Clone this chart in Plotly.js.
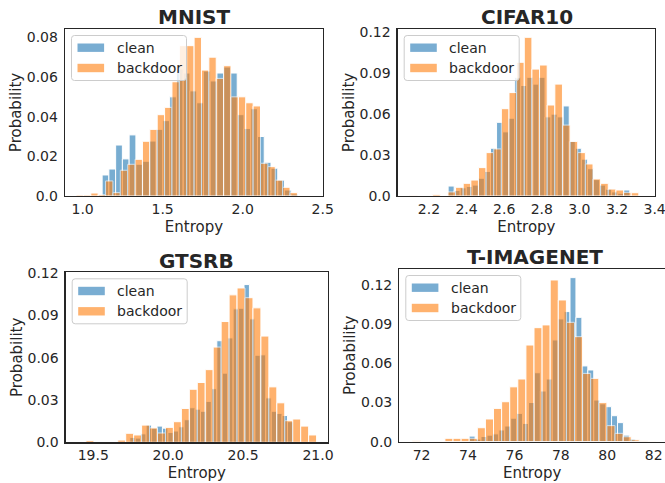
<!DOCTYPE html>
<html><head><meta charset="utf-8">
<script src="https://cdn.plot.ly/plotly-3.0.1.min.js"></script>
<style>html,body{margin:0;padding:0;background:#fff}#chart{width:665px;height:483px}</style>
</head><body><div id="chart"></div>
<script>
// ---------------- DATA ----------------
const panelTitles = ['MNIST', 'CIFAR10', 'GTSRB', 'T-IMAGENET'];
const seriesNames = ['clean', 'backdoor'];

// MNIST
const mnistCleanStart = 1.122, mnistCleanWidth = 0.0422;
const mnistClean = [0.0106,0.0136,0.0257,0.0187,0.0308,0.016,0.0175,0.0277,0.0336,0.038,0.050,0.064,0.062,0.053,0.047,0.063,0.058,0.062,0.065,0.062,0.041,0.034,0.044,0.030,0.017,0.014,0.008,0.003,0.001];
const mnistBackdoorStart = 0.959, mnistBackdoorWidth = 0.0461;
const mnistBackdoor = [0.0005,0.0005,0.0015,0.0007,0.0076,0.0017,0.013,0.016,0.0185,0.0276,0.0336,0.041,0.0447,0.0576,0.0758,0.0758,0.080,0.0635,0.070,0.0593,0.0657,0.050,0.050,0.047,0.0454,0.0165,0.0148,0.008,0.0044,0.0017];
const mnistXTicks = [1.0, 1.5, 2.0, 2.5];
const mnistXTickText = ['1.0', '1.5', '2.0', '2.5'];
const mnistYTicks = [0, 0.02, 0.04, 0.06, 0.08];
const mnistYTickText = ['0.0', '0.02', '0.04', '0.06', '0.08'];

// CIFAR10
const cifarCleanStart = 2.302, cifarCleanWidth = 0.0322;
const cifarClean = [0.0073,0.004,0.006,0.007,0.008,0.013,0.018,0.035,0.054,0.047,0.057,0.087,0.081,0.087,0.082,0.087,0.058,0.060,0.058,0.066,0.040,0.035,0.027,0.020,0.012,0.008,0.005,0.003,0.002,0.0044];
const cifarBackdoorStart = 2.098, cifarBackdoorWidth = 0.0406;
const cifarBackdoor = [0.0005,0,0,0.0012,0,0.003,0.0064,0.0093,0.0117,0.0208,0.0318,0.0345,0.064,0.0758,0.098,0.1163,0.093,0.096,0.0667,0.082,0.052,0.040,0.0318,0.0235,0.0125,0.0093,0.0051,0.0044,0.0027,0.0024];
const cifarXTicks = [2.2, 2.4, 2.6, 2.8, 3.0, 3.2, 3.4];
const cifarXTickText = ['2.2', '2.4', '2.6', '2.8', '3.0', '3.2', '3.4'];
const cifarYTicks = [0, 0.03, 0.06, 0.09, 0.12];
const cifarYTickText = ['0.0', '0.03', '0.06', '0.09', '0.12'];

// GTSRB
const gtsrbCleanStart = 19.744, gtsrbCleanWidth = 0.0363;
const gtsrbClean = [0.0035,0.003,0.006,0.0122,0.010,0.0115,0.010,0.007,0.008,0.011,0.016,0.0245,0.0235,0.022,0.029,0.038,0.072,0.049,0.074,0.0946,0.095,0.1118,0.0875,0.0617,0.062,0.0315,0.022,0.0205,0.019,0.0146];
const gtsrbBackdoorStart = 19.451, gtsrbBackdoorWidth = 0.0531;
const gtsrbBackdoor = [0.0012,0,0,0,0.0016,0.0064,0.0052,0.0122,0.0102,0.0066,0.0106,0.0146,0.024,0.0376,0.0424,0.0515,0.0675,0.0856,0.1045,0.1094,0.1025,0.0953,0.0753,0.0393,0.028,0.0153,0.0165,0.0115,0.0052];
const gtsrbXTicks = [19.5, 20.0, 20.5, 21.0];
const gtsrbXTickText = ['19.5', '20.0', '20.5', '21.0'];
const gtsrbYTicks = [0, 0.03, 0.06, 0.09, 0.12];
const gtsrbYTickText = ['0.0', '0.03', '0.06', '0.09', '0.12'];

// T-IMAGENET
const timgCleanStart = 74.05, timgCleanWidth = 0.2557;
const timgClean = [0.0043,0.002,0.004,0.005,0.006,0.009,0.012,0.018,0.0217,0.014,0.030,0.0528,0.0388,0.048,0.0779,0.094,0.0996,0.1256,0.0952,0.058,0.0549,0.0319,0.029,0.0268,0.0199,0.0146,0.005,0.002,0.0008,0.0005];
const timgBackdoorStart = 71.61, timgBackdoorWidth = 0.349;
const timgBackdoor = [0.001,0,0,0,0.0026,0.0026,0.0026,0.0026,0.0107,0.0174,0.0255,0.0306,0.042,0.048,0.074,0.0873,0.0894,0.1238,0.1085,0.0914,0.0804,0.0523,0.0485,0.0299,0.0123,0.0064,0.0038,0.0015,0.0008,0.0005];
const timgXTicks = [72, 74, 76, 78, 80, 82];
const timgXTickText = ['72', '74', '76', '78', '80', '82'];
const timgYTicks = [0, 0.03, 0.06, 0.09, 0.12];
const timgYTickText = ['0.0', '0.03', '0.06', '0.09', '0.12'];

// ---------------- LAYOUT / STYLE ----------------
const W = 665, H = 483;
const PX = x => x / W, PY = y => 1 - y / H;
const BLUE = '#1f77b4', ORANGE = '#ff7f0e', TXT = '#262626';
const FONT = 'DejaVu Sans';

const panels = [
  {box:[65,29,323,196], xr:[0.89,2.502], yr:[0,0.0842],
   clean:[mnistCleanStart,mnistCleanWidth,mnistClean], back:[mnistBackdoorStart,mnistBackdoorWidth,mnistBackdoor],
   xt:mnistXTicks, xtt:mnistXTickText, yt:mnistYTicks, ytt:mnistYTickText, tcx:194, tcy:17},
  {box:[397.7,29,655,196], xr:[2.034,3.402], yr:[0,0.1224],
   clean:[cifarCleanStart,cifarCleanWidth,cifarClean], back:[cifarBackdoorStart,cifarBackdoorWidth,cifarBackdoor],
   xt:cifarXTicks, xtt:cifarXTickText, yt:cifarYTicks, ytt:cifarYTickText, tcx:526.5, tcy:17},
  {box:[65.7,272.3,328,442.3], xr:[19.316,21.067], yr:[0,0.1205],
   clean:[gtsrbCleanStart,gtsrbCleanWidth,gtsrbClean], back:[gtsrbBackdoorStart,gtsrbBackdoorWidth,gtsrbBackdoor],
   xt:gtsrbXTicks, xtt:gtsrbXTickText, yt:gtsrbYTicks, ytt:gtsrbYTickText, tcx:196.8, tcy:260.7},
  {box:[399.3,269,665,441.7], xr:[71.04,82.49], yr:[0,0.1322],
   clean:[timgCleanStart,timgCleanWidth,timgClean], back:[timgBackdoorStart,timgBackdoorWidth,timgBackdoor],
   xt:timgXTicks, xtt:timgXTickText, yt:timgYTicks, ytt:timgYTickText, tcx:535, tcy:256.7}
];

function centers(start, w, n) { const a = []; for (let k = 0; k < n; k++) a.push(start + (k + 0.5) * w); return a; }

const traces = [];
const layout = {
  width: W, height: H, margin: {l:0, r:0, t:0, b:0},
  paper_bgcolor: '#fff', plot_bgcolor: '#fff',
  barmode: 'overlay', showlegend: false,
  font: {family: FONT, color: TXT, size: 14},
  shapes: [], annotations: []
};

function roundRect(x0, y0, x1, y1, r) {
  const p = (x, y) => PX(x) + ',' + PY(y);
  return 'M' + p(x0 + r, y0) + ' L' + p(x1 - r, y0) + ' Q' + p(x1, y0) + ' ' + p(x1, y0 + r) +
    ' L' + p(x1, y1 - r) + ' Q' + p(x1, y1) + ' ' + p(x1 - r, y1) +
    ' L' + p(x0 + r, y1) + ' Q' + p(x0, y1) + ' ' + p(x0, y1 - r) +
    ' L' + p(x0, y0 + r) + ' Q' + p(x0, y0) + ' ' + p(x0 + r, y0) + ' Z';
}

panels.forEach((pn, i) => {
  const sfx = i === 0 ? '' : String(i + 1);
  const xa = 'x' + sfx, ya = 'y' + sfx;
  const [L, T, R, B] = pn.box;
  const series = [[pn.clean, BLUE, seriesNames[0]], [pn.back, ORANGE, seriesNames[1]]];
  series.forEach(([s, col, nm]) => {
    traces.push({
      type: 'bar', name: nm, x: centers(s[0], s[1], s[2].length), y: s[2], width: s[1],
      xaxis: xa, yaxis: ya, opacity: 0.6,
      marker: {color: col, line: {color: '#ffffff', width: 1}},
      hoverinfo: 'skip'
    });
  });
  const axCommon = {showline: true, mirror: true, linecolor: TXT, linewidth: 1.25,
    showgrid: false, zeroline: false, ticks: '', tickfont: {size: 14, color: TXT, family: FONT},
    automargin: false, fixedrange: true, ticklabeloverflow: 'allow'};
  layout['xaxis' + sfx] = Object.assign({}, axCommon, {
    domain: [PX(L), Math.min(1, PX(R))], range: pn.xr, anchor: ya,
    tickmode: 'array', tickvals: pn.xt, ticktext: pn.xtt, ticklabelstandoff: 0,
    title: {text: 'Entropy', font: {size: 15, color: TXT, family: FONT}, standoff: 5}
  });
  layout['yaxis' + sfx] = Object.assign({}, axCommon, {
    domain: [PY(B), PY(T)], range: pn.yr, anchor: xa,
    tickmode: 'array', tickvals: pn.yt, ticktext: pn.ytt, ticklabelstandoff: 3,
    title: {text: 'Probability', font: {size: 15, color: TXT, family: FONT}, standoff: 1}
  });
  // subplot title
  layout.annotations.push({xref: 'paper', yref: 'paper', x: PX(pn.tcx), y: PY(pn.tcy),
    xanchor: 'center', yanchor: 'middle', showarrow: false, text: panelTitles[i],
    font: {family: FONT, size: 20, weight: 'bold', color: TXT}});
  // legend
  const bx = L + 6.5, by = T + 6.5, bw = 115, bh = 45;
  layout.shapes.push({type: 'path', xref: 'paper', yref: 'paper', layer: 'above',
    path: roundRect(bx, by, bx + bw, by + bh, 3),
    fillcolor: 'rgba(255,255,255,0.8)', line: {color: '#cccccc', width: 1}});
  [[BLUE, 12.2, seriesNames[0]], [ORANGE, 32.5, seriesNames[1]]].forEach(([col, cy, nm]) => {
    layout.shapes.push({type: 'rect', xref: 'paper', yref: 'paper', layer: 'above',
      x0: PX(bx + 6), x1: PX(bx + 32.6), y0: PY(by + cy - 4.2), y1: PY(by + cy + 4.2),
      fillcolor: col, opacity: 0.6, line: {width: 0}});
    layout.annotations.push({xref: 'paper', yref: 'paper', x: PX(bx + 43), y: PY(by + cy),
      xanchor: 'left', yanchor: 'middle', showarrow: false, text: nm,
      font: {family: FONT, size: 14, color: TXT}});
  });
});

Plotly.newPlot('chart', traces, layout, {staticPlot: true, displayModeBar: false});
</script>
</body></html>
